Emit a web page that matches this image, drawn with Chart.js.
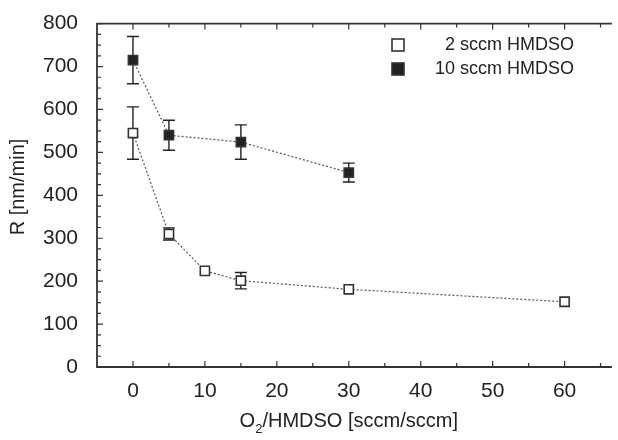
<!DOCTYPE html>
<html>
<head>
<meta charset="utf-8">
<script src="https://cdn.jsdelivr.net/npm/chart.js@4.4.0/dist/chart.umd.min.js"></script>
<style>
  html, body { margin: 0; padding: 0; background: #fff; }
  canvas { display: block; }
</style>
</head>
<body>
<canvas id="rate-chart" width="618" height="440"></canvas>
<script>
  // O2/HMDSO ratio vs deposition rate
  const ratio2 = [0, 5, 10, 15, 30, 60];
  const rate2 = [545, 310, 224, 201, 181, 152];
  const err2 = [61, 14, 0, 19, 0, 0];

  const ratio10 = [0, 5, 15, 30];
  const rate10 = [715, 540, 524, 453];
  const err10 = [55, 35, 40, 22];

  const xTicks = [0, 10, 20, 30, 40, 50, 60];
  const yTicks = [0, 100, 200, 300, 400, 500, 600, 700, 800];
  const labels = ['2 sccm HMDSO', '10 sccm HMDSO'];

  const FONT = '"Liberation Sans", Arial, Helvetica, sans-serif';
  const INK = '#222';

  const pts = (xs, ys) => xs.map((x, i) => ({ x: x, y: ys[i] }));

  function square(ctx, x, y, filled) {
    const s = 12;
    ctx.save();
    ctx.fillStyle = filled ? '#222' : '#fff';
    ctx.fillRect(x - s / 2, y - s / 2, s, s);
    ctx.strokeStyle = '#333'; ctx.lineWidth = 1.6;
    ctx.strokeRect(x - s / 2, y - s / 2, s, s);
    ctx.restore();
  }

  const decor = {
    id: 'decor',
    beforeDatasetsDraw(chart) {
      const ctx = chart.ctx, xs = chart.scales.x, ys = chart.scales.y;
      ctx.save();
      ctx.strokeStyle = '#222'; ctx.lineWidth = 1.4;
      const bars = (xv, yv, ev) => xv.forEach((x, i) => {
        if (!ev[i]) return;
        const px = xs.getPixelForValue(x);
        const top = ys.getPixelForValue(yv[i] + ev[i]);
        const bot = ys.getPixelForValue(yv[i] - ev[i]);
        ctx.beginPath();
        ctx.moveTo(px, top); ctx.lineTo(px, bot);
        ctx.moveTo(px - 6, top); ctx.lineTo(px + 6, top);
        ctx.moveTo(px - 6, bot); ctx.lineTo(px + 6, bot);
        ctx.stroke();
      });
      bars(ratio2, rate2, err2);
      bars(ratio10, rate10, err10);
      ctx.restore();
    },
    afterDraw(chart) {
      const ctx = chart.ctx, a = chart.chartArea, xs = chart.scales.x, ys = chart.scales.y;
      ctx.save();
      // frame (right side is cut off in the original)
      ctx.strokeStyle = '#333'; ctx.lineWidth = 1.8;
      ctx.beginPath();
      ctx.moveTo(a.right + 2, a.top); ctx.lineTo(a.left, a.top);
      ctx.lineTo(a.left, a.bottom); ctx.lineTo(a.right + 2, a.bottom);
      ctx.stroke();
      // inward ticks
      ctx.lineWidth = 1.2;
      ctx.beginPath();
      for (let v = 0; v <= xs.max; v += 5) {
        const px = xs.getPixelForValue(v), len = v % 10 === 0 ? 6 : 4;
        ctx.moveTo(px, a.bottom); ctx.lineTo(px, a.bottom - len);
        ctx.moveTo(px, a.top); ctx.lineTo(px, a.top + len);
      }
      for (let v = 0; v <= 800; v += 25) {
        const py = ys.getPixelForValue(v), len = v % 100 === 0 ? 6 : 4;
        ctx.moveTo(a.left, py); ctx.lineTo(a.left + len, py);
      }
      ctx.stroke();

      // axis titles
      ctx.fillStyle = INK;
      ctx.font = '20px ' + FONT;
      ctx.textBaseline = 'middle';
      ctx.save();
      ctx.translate(18, 187);
      ctx.rotate(-Math.PI / 2);
      ctx.textAlign = 'center';
      ctx.fillText('R [nm/min]', 0, 0);
      ctx.restore();

      const cx = (xs.getPixelForValue(-5) + xs.getPixelForValue(65)) / 2;
      const ty = 421;
      const p1 = 'O', p2 = '2', p3 = '/HMDSO [sccm/sccm]';
      ctx.font = '20px ' + FONT;
      const w1 = ctx.measureText(p1).width, w3 = ctx.measureText(p3).width;
      ctx.font = '13px ' + FONT;
      const w2 = ctx.measureText(p2).width;
      let sx = cx - (w1 + w2 + w3) / 2;
      ctx.textAlign = 'left';
      ctx.font = '20px ' + FONT;
      ctx.fillText(p1, sx, ty); sx += w1;
      ctx.font = '13px ' + FONT;
      ctx.fillText(p2, sx, ty + 8); sx += w2;
      ctx.font = '20px ' + FONT;
      ctx.fillText(p3, sx, ty);

      // legend
      ctx.font = '18px ' + FONT;
      ctx.textAlign = 'right';
      square(ctx, 398, 45, false);
      square(ctx, 398, 69, true);
      ctx.fillText(labels[0], 574, 45);
      ctx.fillText(labels[1], 574, 69);
      ctx.restore();
    }
  };

  const openSq = { pointStyle: 'rect', pointRadius: 6.5, pointBorderWidth: 1.6 };

  new Chart(document.getElementById('rate-chart'), {
    type: 'scatter',
    data: {
      datasets: [
        {
          label: labels[0], data: pts(ratio2, rate2), showLine: true,
          borderColor: '#555', borderWidth: 1.2, borderDash: [2, 2],
          pointBackgroundColor: '#fff', pointBorderColor: '#333', ...openSq
        },
        {
          label: labels[1], data: pts(ratio10, rate10), showLine: true,
          borderColor: '#555', borderWidth: 1.2, borderDash: [2, 2],
          pointBackgroundColor: '#222', pointBorderColor: '#333', ...openSq
        }
      ]
    },
    options: {
      responsive: false,
      animation: false,
      layout: { padding: { top: 15, right: 0, bottom: 0, left: 0 } },
      plugins: { legend: { display: false }, tooltip: { enabled: false } },
      scales: {
        x: {
          type: 'linear', min: -5, max: 66.3,
          grid: { display: false }, border: { display: false },
          afterBuildTicks: s => { s.ticks = xTicks.map(v => ({ value: v })); },
          afterFit: s => { s.height = 73; },
          ticks: { color: INK, font: { family: FONT, size: 21 }, padding: 4 }
        },
        y: {
          type: 'linear', min: 0, max: 800,
          grid: { display: false }, border: { display: false },
          afterBuildTicks: s => { s.ticks = yTicks.map(v => ({ value: v })); },
          afterFit: s => { s.width = 97; },
          ticks: { color: INK, font: { family: FONT, size: 21 }, padding: 11 }
        }
      }
    },
    plugins: [decor]
  });
</script>
</body>
</html>
